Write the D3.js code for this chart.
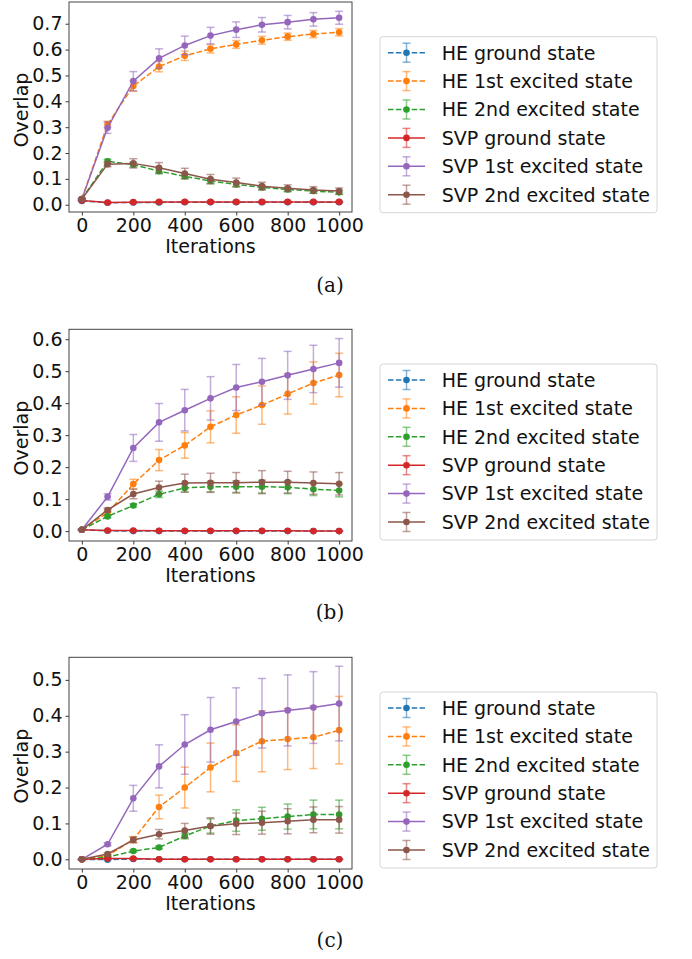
<!DOCTYPE html>
<html>
<head>
<meta charset="utf-8">
<script src="https://cdn.jsdelivr.net/npm/d3@7"></script>
<style>
  body { margin: 0; background: #fff; }
  svg { display: block; }
</style>
</head>
<body>
<div class="article"></div>
<script>
// Iterations on the x axis, shared by every panel
var iterations = [0, 100, 200, 300, 400, 500, 600, 700, 800, 900, 1000];
var xTicks = [0, 200, 400, 600, 800, 1000];

var seriesNames = ["HE ground state", "HE 1st excited state", "HE 2nd excited state",
  "SVP ground state", "SVP 1st excited state", "SVP 2nd excited state"];
var seriesColors = ["#1f77b4", "#ff7f0e", "#2ca02c", "#d62728", "#9467bd", "#8c564b"];
var seriesDashed = [true, true, true, false, false, false];

// ---- panel (a)
var heGroundA = [0.015, 0.008, 0.009, 0.009, 0.010, 0.010, 0.010, 0.010, 0.010, 0.010, 0.010];
var heGroundErrA = [0.002, 0.002, 0.002, 0.002, 0.002, 0.002, 0.002, 0.002, 0.002, 0.002, 0.002];
var he1stA = [0.022, 0.311, 0.459, 0.534, 0.576, 0.603, 0.620, 0.636, 0.650, 0.660, 0.667];
var he1stErrA = [0.003, 0.012, 0.020, 0.020, 0.018, 0.016, 0.015, 0.015, 0.014, 0.014, 0.014];
var he2ndA = [0.022, 0.168, 0.155, 0.130, 0.110, 0.092, 0.079, 0.067, 0.059, 0.053, 0.048];
var he2ndErrA = [0.003, 0.008, 0.010, 0.010, 0.010, 0.010, 0.009, 0.008, 0.008, 0.008, 0.008];
var svpGroundA = [0.016, 0.009, 0.010, 0.011, 0.011, 0.011, 0.011, 0.011, 0.011, 0.011, 0.011];
var svpGroundErrA = [0.002, 0.002, 0.002, 0.003, 0.003, 0.003, 0.003, 0.003, 0.003, 0.003, 0.003];
var svp1stA = [0.022, 0.298, 0.478, 0.566, 0.616, 0.654, 0.677, 0.696, 0.706, 0.717, 0.723];
var svp1stErrA = [0.003, 0.022, 0.037, 0.037, 0.036, 0.032, 0.030, 0.028, 0.026, 0.026, 0.025];
var svp2ndA = [0.022, 0.157, 0.160, 0.143, 0.121, 0.099, 0.086, 0.072, 0.064, 0.057, 0.053];
var svp2ndErrA = [0.003, 0.010, 0.018, 0.020, 0.020, 0.018, 0.017, 0.015, 0.013, 0.013, 0.012];

// ---- panel (b)
var heGroundB = [0.004, 0.001, 0.000, 0.000, 0.000, 0.000, 0.000, 0.000, 0.000, 0.000, 0.000];
var heGroundErrB = [0.001, 0.001, 0.001, 0.001, 0.001, 0.001, 0.001, 0.001, 0.001, 0.001, 0.001];
var he1stB = [0.004, 0.058, 0.147, 0.222, 0.268, 0.326, 0.363, 0.394, 0.429, 0.463, 0.488];
var he1stErrB = [0.001, 0.008, 0.015, 0.033, 0.040, 0.050, 0.057, 0.060, 0.063, 0.066, 0.068];
var he2ndB = [0.004, 0.046, 0.080, 0.115, 0.135, 0.139, 0.139, 0.139, 0.137, 0.131, 0.127];
var he2ndErrB = [0.001, 0.004, 0.005, 0.010, 0.013, 0.016, 0.018, 0.020, 0.020, 0.020, 0.020];
var svpGroundB = [0.004, 0.002, 0.002, 0.001, 0.001, 0.001, 0.001, 0.001, 0.001, 0.000, 0.000];
var svpGroundErrB = [0.001, 0.001, 0.001, 0.001, 0.001, 0.001, 0.001, 0.001, 0.001, 0.001, 0.001];
var svp1stB = [0.004, 0.107, 0.260, 0.340, 0.378, 0.415, 0.449, 0.467, 0.487, 0.507, 0.526];
var svp1stErrB = [0.001, 0.010, 0.042, 0.059, 0.065, 0.068, 0.072, 0.073, 0.075, 0.074, 0.076];
var svp2ndB = [0.004, 0.066, 0.116, 0.136, 0.150, 0.151, 0.151, 0.153, 0.153, 0.150, 0.148];
var svp2ndErrB = [0.001, 0.006, 0.015, 0.020, 0.028, 0.030, 0.032, 0.036, 0.034, 0.035, 0.035];

// ---- panel (c)
var heGroundC = [0.000, -0.001, 0.001, 0.000, 0.000, 0.000, 0.000, 0.000, 0.000, 0.000, 0.000];
var heGroundErrC = [0.001, 0.001, 0.001, 0.001, 0.001, 0.001, 0.001, 0.001, 0.001, 0.001, 0.001];
var he1stC = [0.000, 0.010, 0.055, 0.146, 0.200, 0.256, 0.296, 0.329, 0.335, 0.340, 0.360];
var he1stErrC = [0.001, 0.003, 0.008, 0.033, 0.057, 0.068, 0.079, 0.085, 0.085, 0.087, 0.094];
var he2ndC = [0.000, 0.006, 0.023, 0.033, 0.065, 0.093, 0.108, 0.113, 0.119, 0.125, 0.125];
var he2ndErrC = [0.001, 0.002, 0.003, 0.004, 0.008, 0.020, 0.030, 0.032, 0.035, 0.040, 0.040];
var svpGroundC = [0.000, 0.002, 0.002, 0.000, 0.000, 0.000, 0.000, 0.000, 0.000, 0.000, 0.000];
var svpGroundErrC = [0.001, 0.001, 0.001, 0.001, 0.001, 0.001, 0.001, 0.001, 0.001, 0.001, 0.001];
var svp1stC = [0.000, 0.042, 0.170, 0.259, 0.320, 0.361, 0.384, 0.407, 0.415, 0.423, 0.434];
var svp1stErrC = [0.001, 0.004, 0.036, 0.060, 0.083, 0.090, 0.094, 0.097, 0.099, 0.100, 0.104];
var svp2ndC = [0.000, 0.015, 0.054, 0.070, 0.080, 0.093, 0.099, 0.102, 0.106, 0.110, 0.110];
var svp2ndErrC = [0.001, 0.003, 0.008, 0.013, 0.020, 0.023, 0.030, 0.032, 0.035, 0.036, 0.037];

var yTicksA = [0.0, 0.1, 0.2, 0.3, 0.4, 0.5, 0.6, 0.7];
var yTicksB = [0.0, 0.1, 0.2, 0.3, 0.4, 0.5, 0.6];
var yTicksC = [0.0, 0.1, 0.2, 0.3, 0.4, 0.5];

var panels = [
  { tag: "(a)", top: 2, height: 210, yDomain: [-0.028, 0.784], yTicks: yTicksA,
    values: [heGroundA, he1stA, he2ndA, svpGroundA, svp1stA, svp2ndA],
    errors: [heGroundErrA, he1stErrA, he2ndErrA, svpGroundErrA, svp1stErrA, svp2ndErrA] },
  { tag: "(b)", top: 329.3, height: 211.7, yDomain: [-0.031, 0.631], yTicks: yTicksB,
    values: [heGroundB, he1stB, he2ndB, svpGroundB, svp1stB, svp2ndB],
    errors: [heGroundErrB, he1stErrB, he2ndErrB, svpGroundErrB, svp1stErrB, svp2ndErrB] },
  { tag: "(c)", top: 657.3, height: 211.7, yDomain: [-0.027, 0.563], yTicks: yTicksC,
    values: [heGroundC, he1stC, he2ndC, svpGroundC, svp1stC, svp2ndC],
    errors: [heGroundErrC, he1stErrC, he2ndErrC, svpGroundErrC, svp1stErrC, svp2ndErrC] }
];

var svgWidth = 692;
var svgHeight = 959;
var plotLeft = 69;
var plotRight = 352;
var font = "DejaVu Sans, sans-serif";

var svg = d3.select(".article")
  .append("svg")
  .attr("width", svgWidth)
  .attr("height", svgHeight);

var x = d3.scaleLinear().domain([-50, 1050]).range([plotLeft, plotRight]);

panels.forEach(function(p) {
  var y = d3.scaleLinear().domain(p.yDomain).range([p.top + p.height, p.top]);
  var g = svg.append("g");

  // axes
  var xAxis = g.append("g")
    .attr("transform", "translate(0," + (p.top + p.height) + ")")
    .call(d3.axisBottom(x).tickValues(xTicks).tickSize(3.5).tickPadding(3).tickFormat(d3.format("d")));
  var yAxis = g.append("g")
    .attr("transform", "translate(" + plotLeft + ",0)")
    .call(d3.axisLeft(y).tickValues(p.yTicks).tickSize(3.5).tickPadding(3).tickFormat(d3.format(".1f")));
  [xAxis, yAxis].forEach(function(a) {
    a.select(".domain").remove();
    a.selectAll("line").attr("stroke", "#222").attr("stroke-width", 0.9);
    a.selectAll("text").attr("fill", "#111").style("font-family", font).style("font-size", "19px");
  });

  // data lines, error bars, markers
  var line = d3.line()
    .x(function(d, i) { return x(iterations[i]); })
    .y(function(d) { return y(d); });

  p.values.forEach(function(vals, s) {
    var col = seriesColors[s];
    var errs = p.errors[s];
    var sg = g.append("g");
    sg.append("path")
      .attr("d", line(vals))
      .attr("fill", "none")
      .attr("stroke", col)
      .attr("stroke-width", 1.5)
      .attr("stroke-dasharray", seriesDashed[s] ? "5.5,2.4" : null);

    var eb = sg.selectAll(".eb").data(vals).enter().append("g")
      .attr("stroke", col).attr("stroke-opacity", 0.55).attr("stroke-width", 1.5);
    eb.append("line")
      .attr("x1", function(d, i) { return x(iterations[i]); })
      .attr("x2", function(d, i) { return x(iterations[i]); })
      .attr("y1", function(d, i) { return y(d - errs[i]); })
      .attr("y2", function(d, i) { return y(d + errs[i]); });
    [-1, 1].forEach(function(sign) {
      eb.append("line")
        .attr("x1", function(d, i) { return x(iterations[i]) - 4; })
        .attr("x2", function(d, i) { return x(iterations[i]) + 4; })
        .attr("y1", function(d, i) { return y(d + sign * errs[i]); })
        .attr("y2", function(d, i) { return y(d + sign * errs[i]); });
    });

    sg.selectAll("circle").data(vals).enter().append("circle")
      .attr("cx", function(d, i) { return x(iterations[i]); })
      .attr("cy", function(d) { return y(d); })
      .attr("r", 3.3)
      .attr("fill", col);
  });

  // frame
  g.append("rect")
    .attr("x", plotLeft).attr("y", p.top)
    .attr("width", plotRight - plotLeft).attr("height", p.height)
    .attr("fill", "none").attr("stroke", "#444").attr("stroke-width", 1);

  // axis labels
  g.append("text")
    .attr("x", (plotLeft + plotRight) / 2).attr("y", p.top + p.height + 41)
    .attr("text-anchor", "middle")
    .style("font-family", font).style("font-size", "19px").attr("fill", "#111")
    .text("Iterations");
  g.append("text")
    .attr("transform", "translate(28," + (p.top + p.height / 2 + 3) + ") rotate(-90)")
    .attr("text-anchor", "middle")
    .style("font-family", font).style("font-size", "19px").attr("fill", "#111")
    .text("Overlap");

  // legend
  var lx = 380, ly = p.top + 34.7, rowH = 28.4;
  g.append("rect")
    .attr("x", lx).attr("y", ly).attr("width", 277).attr("height", 176)
    .attr("rx", 3).attr("fill", "#fff").attr("stroke", "#d6d6d6").attr("stroke-width", 1);
  seriesNames.forEach(function(name, s) {
    var cy = ly + 16 + s * rowH;
    var lg = g.append("g");
    lg.append("line")
      .attr("x1", lx + 8).attr("x2", lx + 45).attr("y1", cy).attr("y2", cy)
      .attr("stroke", seriesColors[s]).attr("stroke-width", 1.5)
      .attr("stroke-dasharray", seriesDashed[s] ? "5.5,2.4" : null);
    var ex = lx + 26.5;
    var eg = lg.append("g").attr("stroke", seriesColors[s]).attr("stroke-opacity", 0.55).attr("stroke-width", 1.5);
    eg.append("line").attr("x1", ex).attr("x2", ex).attr("y1", cy - 9.5).attr("y2", cy + 9.5);
    eg.append("line").attr("x1", ex - 4).attr("x2", ex + 4).attr("y1", cy - 9.5).attr("y2", cy - 9.5);
    eg.append("line").attr("x1", ex - 4).attr("x2", ex + 4).attr("y1", cy + 9.5).attr("y2", cy + 9.5);
    lg.append("circle").attr("cx", ex).attr("cy", cy).attr("r", 3.3).attr("fill", seriesColors[s]);
    lg.append("text")
      .attr("x", lx + 61.7).attr("y", cy + 6.8)
      .style("font-family", font).style("font-size", "19px").attr("fill", "#111")
      .text(name);
  });

  // panel caption
  g.append("text")
    .attr("x", 330).attr("y", p.top + 290)
    .attr("text-anchor", "middle")
    .style("font-family", "DejaVu Serif, serif").style("font-size", "20px").attr("fill", "#111")
    .text(p.tag);
});
</script>
</body>
</html>
